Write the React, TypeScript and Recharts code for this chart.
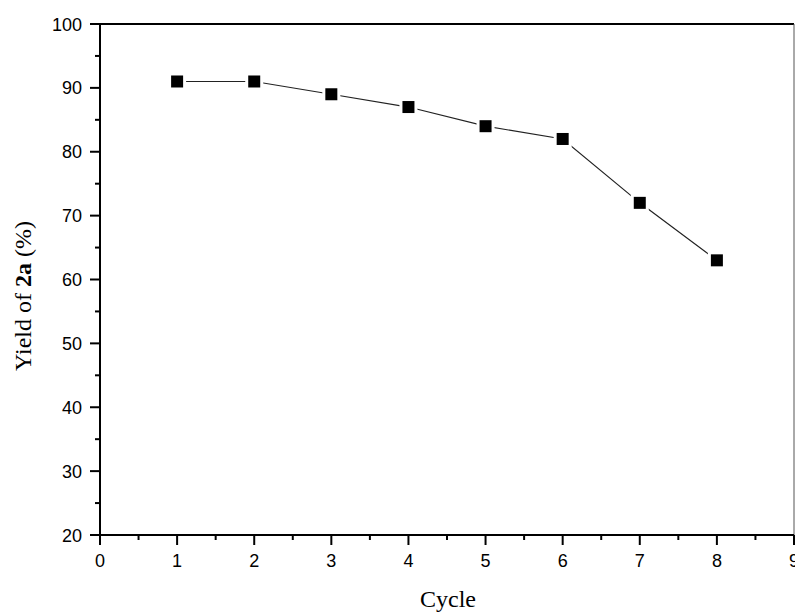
import { Line, LineChart, ReferenceLine, XAxis, YAxis } from "recharts";

const cycles = [1, 2, 3, 4, 5, 6, 7, 8];
const yields = [91, 91, 89, 87, 84, 82, 72, 63];

const xTicks = [0, 0.5, 1, 1.5, 2, 2.5, 3, 3.5, 4, 4.5, 5, 5.5, 6, 6.5, 7, 7.5, 8, 8.5, 9];
const yTicks = [20, 25, 30, 35, 40, 45, 50, 55, 60, 65, 70, 75, 80, 85, 90, 95, 100];

const data = cycles.map((c, i) => ({ cycle: c, yield: yields[i] }));

const sans = "Arial, 'Liberation Sans', sans-serif";
const serif = "'Times New Roman', 'Liberation Serif', serif";

function XTick(props: any) {
  const { x, y, payload } = props;
  const v = payload.value;
  const major = Number.isInteger(v);
  const axisY = y - 10;
  return (
    <g>
      <line x1={x} x2={x} y1={axisY} y2={axisY + (major ? 10 : 5)} stroke="#000" strokeWidth={2} />
      {major && (
        <text x={x} y={axisY + 32} textAnchor="middle" fontSize={18} fontFamily={sans} fill="#000">
          {v}
        </text>
      )}
    </g>
  );
}

function YTick(props: any) {
  const { x, y, payload } = props;
  const v = payload.value;
  const major = v % 10 === 0;
  const axisX = x + 10;
  return (
    <g>
      <line x1={axisX} x2={axisX - (major ? 10 : 5)} y1={y} y2={y} stroke="#000" strokeWidth={2} />
      {major && (
        <text x={axisX - 18} y={y + 6.5} textAnchor="end" fontSize={18} fontFamily={sans} fill="#000">
          {v}
        </text>
      )}
    </g>
  );
}

function SquareDot(props: any) {
  const { cx, cy } = props;
  if (cx == null || cy == null) return null;
  return (
    <g>
      <rect x={cx - 9} y={cy - 9} width={18} height={18} fill="#fff" />
      <rect x={cx - 6} y={cy - 6} width={12} height={12} fill="#000" />
    </g>
  );
}

export default function App() {
  return (
    <div style={{ position: "absolute", left: 0, top: 0, width: 795, height: 612, background: "#fff" }}>
      <LineChart width={795} height={612} data={data} margin={{ top: 24, right: 1, bottom: 0, left: 0 }}>
        <XAxis
          dataKey="cycle"
          type="number"
          domain={[0, 9]}
          ticks={xTicks}
          interval={0}
          height={77}
          tickSize={10}
          tickMargin={0}
          tickLine={false}
          axisLine={{ stroke: "#000", strokeWidth: 2 }}
          tick={<XTick />}
          label={{
            content: () => (
              <text x={448} y={607} textAnchor="middle" fontSize={24} fontFamily={serif} fill="#000">
                Cycle
              </text>
            ),
          }}
        />
        <YAxis
          type="number"
          domain={[20, 100]}
          ticks={yTicks}
          interval={0}
          width={100}
          tickSize={10}
          tickMargin={0}
          tickLine={false}
          axisLine={{ stroke: "#000", strokeWidth: 2 }}
          tick={<YTick />}
          label={{
            content: () => (
              <text
                x={31}
                y={296}
                textAnchor="middle"
                fontSize={24}
                fontFamily={serif}
                fill="#000"
                transform="rotate(-90 31 296)"
              >
                Yield of <tspan fontWeight="bold">2a</tspan> (%)
              </text>
            ),
          }}
        />
        <ReferenceLine y={100} stroke="#000" strokeWidth={2} ifOverflow="visible" />
        <ReferenceLine x={9} stroke="#555" strokeWidth={1} ifOverflow="visible" />
        <Line
          dataKey="yield"
          type="linear"
          stroke="#222"
          strokeWidth={1.2}
          dot={<SquareDot />}
          activeDot={false}
          isAnimationActive={false}
        />
      </LineChart>
    </div>
  );
}
